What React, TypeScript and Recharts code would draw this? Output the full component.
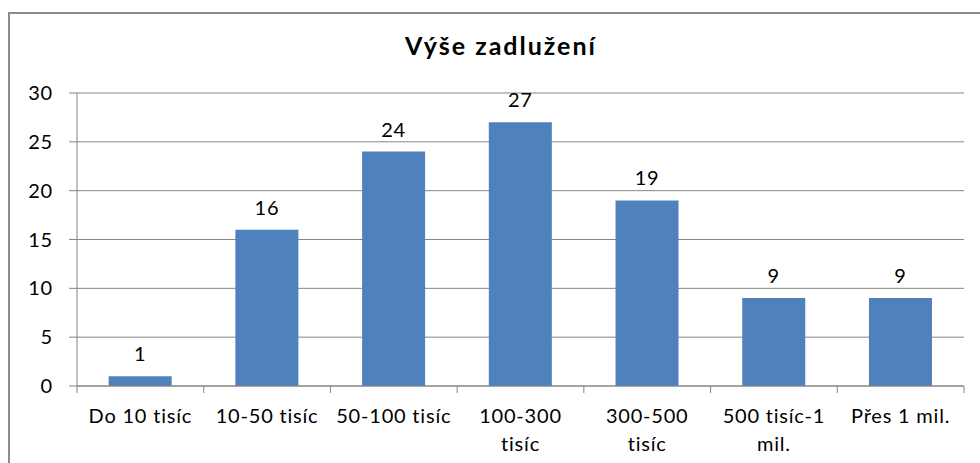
import React from 'react';
import { BarChart, Bar, XAxis, YAxis, CartesianGrid, LabelList } from 'recharts';

// Výše zadlužení – počet odpovědí podle výše dluhu
const categories = ['Do 10 tisíc', '10-50 tisíc', '50-100 tisíc', '100-300 tisíc', '300-500 tisíc', '500 tisíc-1 mil.', 'Přes 1 mil.'];
const counts = [1, 16, 24, 27, 19, 9, 9];
const tickLabelLines = [
  ['Do 10 tisíc'],
  ['10-50 tisíc'],
  ['50-100 tisíc'],
  ['100-300', 'tisíc'],
  ['300-500', 'tisíc'],
  ['500 tisíc-1', 'mil.'],
  ['Přes 1 mil.'],
];
const yTicks = [0, 5, 10, 15, 20, 25, 30];

const WIDTH = 980;
const HEIGHT = 463;
const Y_AXIS_WIDTH = 77;
const MARGIN = { top: 93, right: 16, bottom: 7, left: 0 };
const BAND = (WIDTH - Y_AXIS_WIDTH - MARGIN.right) / categories.length;
const FONT = 'Lato, "Open Sans", sans-serif';
const AXIS_COLOR = '#868686';
const TEXT_STYLE = { letterSpacing: 0.8 };

const data = categories.map((name, i) => ({ name, value: counts[i] }));

const CategoryTick = (props: any) => {
  const { x, y, index } = props;
  const lines = tickLabelLines[index] || [String(props.payload?.value)];
  const left = x - BAND / 2;
  return (
    <g>
      <line x1={left} y1={y} x2={left} y2={y + 7} stroke={AXIS_COLOR} />
      {index === categories.length - 1 && (
        <line x1={x + BAND / 2} y1={y} x2={x + BAND / 2} y2={y + 7} stroke={AXIS_COLOR} />
      )}
      <text x={x} y={y + 37} textAnchor="middle" fontSize={20} fill="#000" fontFamily={FONT} style={TEXT_STYLE}>
        {lines.map((l, i) => (
          <tspan key={i} x={x} dy={i === 0 ? 0 : 28}>{l}</tspan>
        ))}
      </text>
    </g>
  );
};

const App: React.FC = () => {
  return (
    <div style={{ position: 'absolute', left: 0, top: 0, width: WIDTH, height: HEIGHT, overflow: 'hidden', background: '#fff' }}>
      {/* chart frame, cut off at right and bottom */}
      <div style={{ position: 'absolute', left: 8, top: 12, width: 1000, height: 500, border: '2px solid #8c8c8c' }} />
      <div
        style={{
          position: 'absolute',
          left: 11,
          top: 30,
          width: WIDTH,
          textAlign: 'center',
          fontFamily: FONT,
          fontWeight: 'bold',
          fontSize: 25,
          letterSpacing: 2,
          lineHeight: 1.2,
          color: '#000',
        }}
      >
        Výše zadlužení
      </div>
      <div style={{ position: 'absolute', left: 0, top: 0 }}>
        <BarChart width={WIDTH} height={HEIGHT} data={data} margin={MARGIN} barCategoryGap="25%">
          <CartesianGrid vertical={false} stroke={AXIS_COLOR} />
          <XAxis
            dataKey="name"
            height={70}
            tick={<CategoryTick />}
            tickLine={false}
            tickSize={0}
            tickMargin={0}
            interval={0}
            axisLine={{ stroke: AXIS_COLOR }}
          />
          <YAxis
            width={Y_AXIS_WIDTH}
            domain={[0, 30]}
            ticks={yTicks}
            interval={0}
            tickSize={8}
            tickMargin={16}
            tickLine={{ stroke: AXIS_COLOR }}
            axisLine={{ stroke: AXIS_COLOR }}
            tick={{ fill: '#000', fontSize: 20, fontFamily: FONT, style: TEXT_STYLE }}
          />
          <Bar dataKey="value" fill="#4F81BD" isAnimationActive={false}>
            <LabelList
              dataKey="value"
              position="top"
              offset={15}
              fill="#000"
              fontSize={20}
              fontFamily={FONT}
              style={TEXT_STYLE}
            />
          </Bar>
        </BarChart>
      </div>
    </div>
  );
};

export default App;
